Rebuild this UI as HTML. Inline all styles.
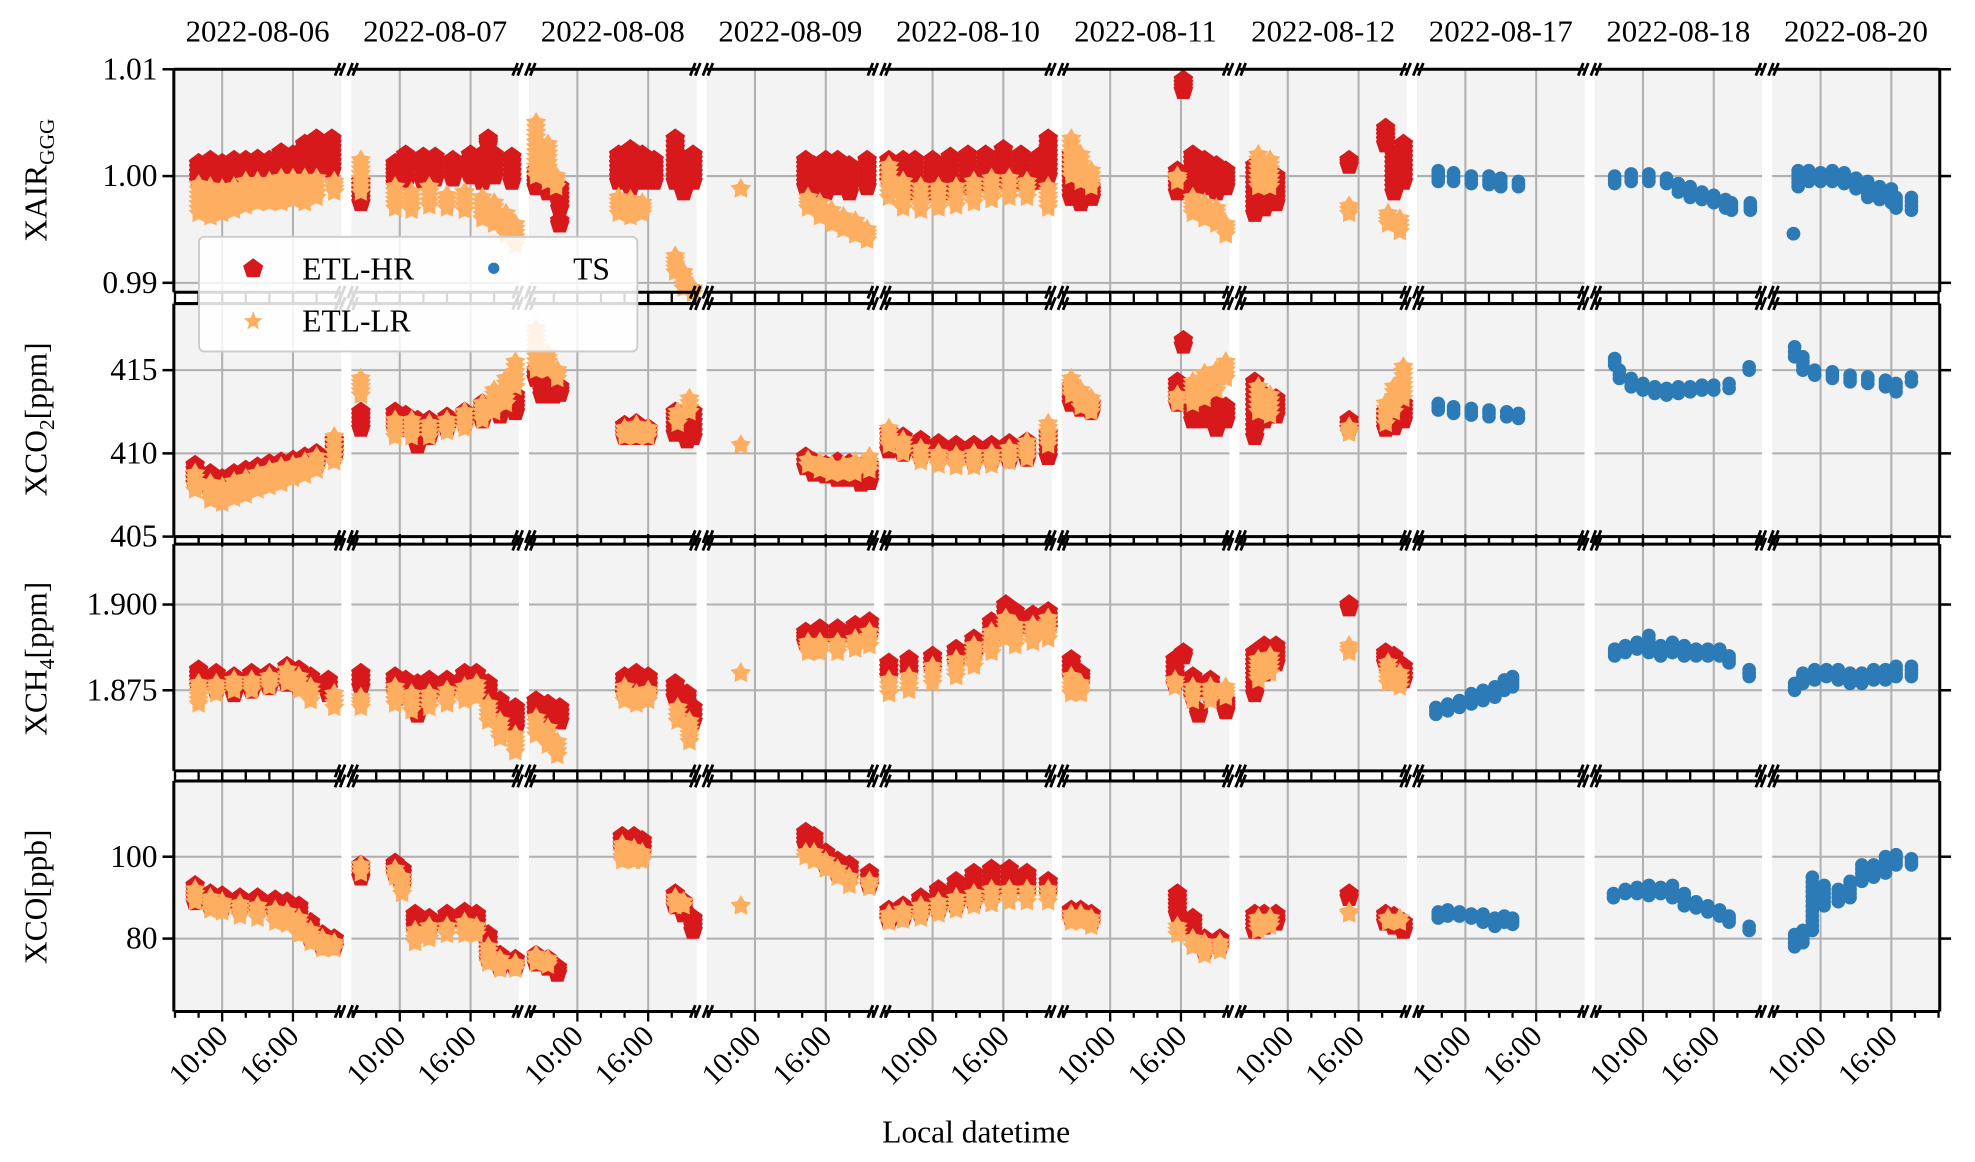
<!DOCTYPE html>
<html><head><meta charset="utf-8"><title>Breaked-axis time series</title>
<style>html,body{margin:0;padding:0;background:#fff}svg{display:block}text{font-family:"Liberation Serif",serif;fill:#000}</style>
</head><body>
<svg id="chart" width="1975" height="1162" viewBox="0 0 1568 922.5" preserveAspectRatio="none" xmlns="http://www.w3.org/2000/svg">
<g id="bg"></g><g id="grid"></g><g id="marks"></g><g id="axes"></g><g id="legend"></g>
</svg>
<script>
const days = ['2022-08-06','2022-08-07','2022-08-08','2022-08-09','2022-08-10','2022-08-11','2022-08-12','2022-08-17','2022-08-18','2022-08-20'];
const xTickHours = [10,16];
const xTickLabels = ['10:00','16:00'];
const xairTicks = [0.99,1.00,1.01];
const xco2Ticks = [405,410,415];
const xch4Ticks = [1.875,1.900];
const xcoTicks = [80,100];

// each entry: [hour, low, high]
const xairHR = [
 [[8,0.9995,1.0012],[9,0.9992,1.0015],[10,0.9998,1.0012],[11,0.9998,1.0015],[12,1.0,1.0015],[13,1.0,1.0016],[14,1.0,1.0015],[15,1.0,1.0022],[16,1.0,1.002],[17,1.0,1.003],[18,1.0005,1.0035],[19.3,1.0005,1.0035]],
 [[6.7,0.9975,0.9995],[9.6,0.9993,1.0012],[10.5,0.9995,1.002],[12,0.9995,1.0018],[13,0.9998,1.0018],[14.5,0.9998,1.0015],[16,1.0,1.002],[17,0.9995,1.002],[17.5,1.003,1.0035],[18,1.0,1.002],[19.5,0.9995,1.0018]],
 [[6.5,0.999,1.0005],[7.5,0.9985,0.9995],[8.5,0.997,0.999],[8.5,0.9955,0.9958],[13.5,0.9995,1.002],[14.5,0.999,1.0025],[15.5,0.9995,1.002],[16.5,0.9995,1.0015],[18.3,0.9995,1.0035],[19,0.9985,1.001],[19.8,0.9995,1.002]],
 [[14.3,0.999,1.0015],[15,0.9985,1.001],[16,0.9985,1.0015],[17,0.999,1.0015],[18,0.9985,1.001],[19.5,0.999,1.0015]],
 [[6.3,0.9995,1.0015],[7.5,0.999,1.0015],[8.5,0.9985,1.0015],[10,0.9985,1.0015],[11.5,0.9985,1.0018],[13,0.999,1.002],[14.5,0.9992,1.002],[16,0.9995,1.0025],[17.5,0.9995,1.002],[19,0.9995,1.0018],[19.8,1.0,1.0035]],
 [[6.7,0.998,1.002],[7.5,0.9975,1.0],[8.4,0.998,0.999],[15.7,0.9985,1.0005],[16.2,1.008,1.009],[17,0.999,1.002],[18,0.999,1.0015],[19,0.9985,1.001],[19.8,0.999,1.0005]],
 [[7.2,0.9965,1.001],[8,0.997,1.0005],[9,0.9975,1.0],[15.2,1.001,1.0015],[18.3,1.003,1.0045],[19,0.9985,1.002],[19.8,0.9995,1.003]],
 [],[],[]
];
const xairLR = [
 [[8,0.9965,0.9992],[9,0.9962,0.999],[10,0.9965,0.9988],[11,0.9968,0.999],[12,0.9972,0.9995],[13,0.9975,0.9995],[14,0.9975,0.9995],[15,0.9975,0.9998],[16,0.9978,0.9998],[17,0.9975,0.9998],[18,0.998,0.9998],[19.5,0.9985,0.9995]],
 [[6.7,0.9985,1.0015],[9.6,0.997,0.999],[11,0.9968,0.9985],[12.5,0.9972,0.999],[14,0.997,0.9982],[15.5,0.9968,0.9985],[17,0.996,0.998],[18,0.9955,0.9975],[19,0.9945,0.9965],[19.8,0.9935,0.9955]],
 [[6.5,1.0,1.005],[7.5,0.9995,1.003],[8.2,0.999,1.0],[13.5,0.9965,0.998],[14.5,0.9962,0.9978],[15.5,0.9965,0.9975],[18.3,0.991,0.9925],[19,0.9895,0.991],[19.8,0.989,0.9895]],
 [[8.8,0.9988,0.9988],[14.5,0.997,0.998],[15.5,0.9962,0.9975],[16.5,0.9955,0.9968],[17.5,0.995,0.9962],[18.5,0.9945,0.9958],[19.5,0.994,0.995]],
 [[6.3,0.998,1.001],[7.5,0.997,0.9995],[9,0.9968,0.999],[10.5,0.997,0.999],[12,0.9972,0.999],[13.5,0.9975,0.9995],[15,0.9978,0.9998],[16.5,0.998,0.9998],[18,0.998,0.9995],[19.8,0.997,0.999]],
 [[6.7,1.0,1.0035],[7.5,0.9995,1.002],[8.4,0.999,1.0005],[15.7,0.9995,1.0],[17,0.9965,0.998],[18,0.996,0.9975],[19,0.9955,0.997],[19.8,0.9945,0.9955]],
 [[7.5,0.999,1.002],[8.5,0.999,1.0015],[15.2,0.9965,0.9972],[18.5,0.9955,0.9965],[19.5,0.9948,0.996]],
 [],[],[]
];
const xairTS = [
 [],[],[],[],[],[],[],
 [[7.7,0.9995,1.0005],[9,0.9995,1.0003],[10.5,0.9993,1.0],[12,0.9992,1.0],[13,0.999,0.9998],[14.5,0.999,0.9995]],
 [[7.6,0.9993,1.0],[9,0.9995,1.0002],[10.5,0.9995,1.0002],[12,0.9993,0.9998],[13,0.9985,0.9993],[14,0.998,0.999],[15,0.9978,0.9985],[16,0.9975,0.9982],[17,0.997,0.9978],[17.5,0.9968,0.9975],[19.1,0.9968,0.9975]],
 [[7.7,0.9946,0.9946],[8.1,0.999,1.0005],[9,0.9995,1.0005],[10,0.9995,1.0003],[11,0.9995,1.0005],[12,0.9993,1.0003],[13,0.9988,0.9998],[14,0.998,0.9995],[15,0.9978,0.999],[16,0.9975,0.9988],[16.4,0.997,0.998],[17.7,0.9968,0.998]]
];
const xco2HR = [
 [[7.7,408.2,409.3],[9,407.8,408.8],[10,407.5,408.5],[11,407.8,408.8],[12,408,409],[13,408.3,409.2],[14,408.5,409.4],[15,408.5,409.5],[16,408.8,409.6],[17,409,409.8],[18,409.3,410],[19.5,409.8,410.8]],
 [[6.7,411.5,412.5],[9.6,411.5,412.5],[10.5,411.5,412.3],[11.5,410.5,412],[12.5,411,412],[14,411.5,412.2],[15.5,411.8,412.5],[17,412,413],[18.5,412.3,413.3],[19.8,412.5,413.5]],
 [[6.5,414.5,415],[7,413.5,414.5],[8,413.5,414.2],[8.5,413.6,414],[14,411,411.7],[15,411,411.8],[16,411,411.5],[18.3,411.2,412.5],[19.3,410.8,412],[19.8,411,412.5]],
 [[14.3,409.2,409.8],[15,408.8,409.5],[16,408.7,409.3],[17,408.5,409.5],[18,408.5,409.4],[19,408.2,409.2],[19.7,408.3,409.3]],
 [[6.3,410.2,411.3],[7.5,410,411],[9,409.8,410.8],[10.5,409.7,410.6],[12,409.6,410.5],[13.5,409.5,410.5],[15,409.6,410.5],[16.5,409.6,410.6],[18,409.7,410.7],[19.8,409.8,411.2]],
 [[6.7,413,414],[7.5,412.7,413.5],[8.4,412.5,413],[15.7,413,414.3],[16.2,416.5,416.8],[17,412,413.5],[18,412,413],[19,411.5,413],[19.8,412,412.8]],
 [[7.2,411,414.3],[8,412,413.5],[9,412.3,413.3],[15.2,411.5,412],[18.3,411.5,412.5],[19,411.6,412.8],[19.8,412,413]],
 [],[],[]
];
const xco2LR = [
 [[7.7,407.8,408.8],[9,407.2,408.2],[10,407,408],[11,407.3,408.3],[12,407.5,408.5],[13,407.8,408.8],[14,408,409],[15,408.2,409.2],[16,408.5,409.3],[17,408.7,409.5],[18,409,409.8],[19.5,409.5,411]],
 [[6.7,413.5,414.5],[9.6,411,412],[11,411,412],[12.5,411,411.8],[14,411.3,412],[15.5,411.5,412.5],[17,412,413],[18,412.5,413.8],[19,413,414.5],[19.8,414,415.5]],
 [[6.5,415,417.5],[7.5,415,416],[8.3,414.5,415],[14,411,411.5],[15,411,411.7],[16,411,411.5],[18.5,411.8,412.5],[19.5,412.5,413.3]],
 [[8.8,410.5,410.5],[14.5,409.3,409.6],[15.5,409,409.5],[16.5,408.8,409.3],[17.5,408.8,409.3],[18.5,408.8,409.5],[19.7,409,409.8]],
 [[6.3,410.5,411.5],[7.5,410,410.8],[9,409.5,410.3],[10.5,409.3,410],[12,409.2,409.9],[13.5,409.2,410],[15,409.3,410],[16.5,409.5,410.3],[18,409.7,410.7],[19.8,410.5,411.8]],
 [[6.7,413.5,414.5],[7.5,412.8,413.8],[8.4,412.5,413.3],[15.7,413,413.5],[17,413,414.3],[18,413.3,414.8],[19,413.8,415],[19.8,414.5,415.5]],
 [[7.5,412.5,414],[8.5,412.3,413.5],[15.2,411.2,411.6],[18.3,411.8,413],[19,412.5,414],[19.8,413.3,415.2]],
 [],[],[]
];
const xco2TS = [
 [],[],[],[],[],[],[],
 [[7.7,412.6,413],[9,412.4,412.8],[10.5,412.3,412.7],[12,412.2,412.6],[13.5,412.2,412.5],[14.5,412.1,412.4]],
 [[7.6,415.3,415.7],[8,414.5,415],[9,414,414.5],[10,413.8,414.2],[11,413.6,414],[12,413.5,413.9],[13,413.6,414],[14,413.7,414],[15,413.8,414.1],[16,413.8,414.1],[17.3,413.9,414.2],[19,415,415.2]],
 [[7.8,415.8,416.4],[8.5,415,415.8],[9.5,414.7,415],[11,414.5,414.9],[12.5,414.3,414.7],[14,414.2,414.6],[15.5,414,414.4],[16.4,413.7,414.2],[17.7,414.3,414.6]]
];
const xch4HR = [
 [[8,1.876,1.881],[9.5,1.875,1.88],[11,1.874,1.879],[12.5,1.875,1.88],[14,1.876,1.88],[15.5,1.877,1.882],[16.5,1.876,1.881],[17.5,1.875,1.879],[19,1.874,1.878]],
 [[6.7,1.876,1.88],[9.6,1.875,1.879],[10.5,1.873,1.878],[11.5,1.868,1.877],[12.5,1.873,1.878],[14,1.874,1.878],[15.5,1.876,1.88],[16.5,1.876,1.88],[17.5,1.872,1.877],[18.5,1.867,1.872],[19.8,1.864,1.87]],
 [[6.5,1.868,1.872],[7.5,1.867,1.871],[8.5,1.866,1.87],[14,1.874,1.879],[15,1.875,1.88],[16,1.874,1.879],[18.3,1.873,1.877],[19.3,1.868,1.874],[19.8,1.866,1.87]],
 [[14.3,1.889,1.892],[15.5,1.889,1.893],[17,1.889,1.893],[18.5,1.89,1.894],[19.7,1.891,1.895]],
 [[6.3,1.879,1.883],[8,1.88,1.884],[10,1.881,1.885],[12,1.883,1.887],[13.5,1.885,1.89],[15,1.89,1.895],[16.2,1.896,1.9],[17,1.892,1.898],[18.5,1.892,1.897],[19.8,1.893,1.898]],
 [[6.7,1.879,1.884],[7.5,1.877,1.88],[15.5,1.877,1.884],[16.2,1.885,1.886],[17,1.873,1.879],[17.5,1.868,1.869],[18.5,1.873,1.878],[19.8,1.869,1.872]],
 [[7.2,1.874,1.886],[8,1.88,1.888],[9,1.883,1.888],[15.2,1.899,1.9],[18.3,1.883,1.886],[19,1.88,1.885],[19.8,1.878,1.882]],
 [],[],[]
];
const xch4LR = [
 [[8,1.871,1.877],[9.5,1.874,1.877],[11,1.875,1.878],[12.5,1.875,1.878],[14,1.876,1.879],[15.5,1.877,1.881],[16.5,1.875,1.879],[17.5,1.872,1.876],[19.5,1.87,1.874]],
 [[6.7,1.87,1.873],[9.6,1.871,1.876],[11,1.869,1.874],[12.5,1.87,1.874],[14,1.871,1.875],[15.5,1.872,1.876],[16.5,1.873,1.877],[17.5,1.866,1.871],[18.5,1.861,1.866],[19.8,1.857,1.862]],
 [[6.5,1.862,1.867],[7.5,1.859,1.864],[8.3,1.856,1.86],[14,1.872,1.876],[15,1.871,1.874],[16,1.872,1.875],[18.5,1.866,1.87],[19.5,1.86,1.866]],
 [[8.8,1.88,1.88],[14.5,1.886,1.889],[15.5,1.886,1.889],[17,1.886,1.889],[18.5,1.887,1.89],[19.7,1.888,1.892]],
 [[6.3,1.874,1.878],[8,1.875,1.879],[10,1.877,1.882],[12,1.879,1.884],[13.5,1.882,1.888],[15,1.886,1.892],[16.2,1.89,1.896],[17,1.888,1.894],[18.5,1.889,1.894],[19.8,1.89,1.896]],
 [[6.7,1.874,1.879],[7.5,1.874,1.877],[15.5,1.876,1.878],[17,1.872,1.876],[18.5,1.872,1.876],[19.8,1.873,1.876]],
 [[7.5,1.878,1.884],[8.5,1.88,1.885],[15.2,1.886,1.888],[18.5,1.877,1.883],[19.5,1.876,1.88]],
 [],[],[]
];
const xch4TS = [
 [],[],[],[],[],[],[],
 [[7.5,1.868,1.87],[8.5,1.869,1.871],[9.5,1.87,1.872],[10.5,1.871,1.874],[11.5,1.872,1.875],[12.5,1.873,1.876],[13.3,1.875,1.878],[14,1.876,1.879]],
 [[7.6,1.885,1.887],[8.5,1.886,1.888],[9.5,1.887,1.889],[10.5,1.886,1.891],[11.5,1.885,1.888],[12.5,1.886,1.889],[13.5,1.885,1.888],[14.5,1.885,1.887],[15.5,1.885,1.887],[16.5,1.885,1.887],[17.3,1.883,1.885],[19,1.879,1.881]],
 [[7.8,1.875,1.877],[8.5,1.877,1.88],[9.5,1.878,1.881],[10.5,1.879,1.881],[11.5,1.878,1.881],[12.5,1.877,1.88],[13.5,1.877,1.88],[14.5,1.878,1.881],[15.5,1.878,1.881],[16.4,1.879,1.882],[17.7,1.879,1.882]]
];
const xcoHR = [
 [[7.7,89,93],[9,88,91],[10,87.5,90.5],[11.5,87,90],[13,87,90],[14.5,86,89.5],[15.5,86,89],[16.5,83,88],[17.5,80,84],[18.5,78,81],[19.5,78,80]],
 [[6.7,95,98],[9.6,96,98.5],[10.2,93,97],[11.3,82,86],[12.5,82,85],[14,83,86],[15.5,83,86.5],[16.5,83,86],[17.5,75,81],[18.5,73,76],[19.8,73,75]],
 [[6.5,74,76],[7.5,73,75],[8.3,71.5,73],[13.8,102,105],[14.8,101,105],[15.5,101,104],[18.3,88,91],[19,86,89],[19.8,82,85]],
 [[14.3,103,106],[15,102,105],[16,98,101],[17,96,99],[18,95,98],[19.7,93,96]],
 [[6.3,84.5,87],[7.5,85,88],[9,86,90],[10.5,87,92],[12,88,94],[13.5,89,96],[15,90,97],[16.5,91,97],[18,91,96],[19.8,91,94]],
 [[6.7,85,87],[7.5,85,87],[8.4,84,86],[15.7,86,91],[17,82,85],[18,77,80],[19.3,78,80]],
 [[7.2,82,86],[8,83,86],[9,84,86],[15.2,90,91],[18.3,84,86],[19,83,85.5],[19.8,82,84]],
 [],[],[]
];
const xcoLR = [
 [[7.7,89,92],[9,87,90],[10,86.5,89],[11.5,85.5,88.5],[13,85,88],[14.5,84,87],[15.5,83.5,86.5],[16.5,81,85],[17.5,79,82],[18.5,77.5,80],[19.5,77.5,79]],
 [[6.7,96,98],[9.6,95,97],[10.2,91,95],[11.3,79,82],[12.5,80,83],[14,81,83],[15.5,81,84],[16.5,81,83],[17.5,74,78],[18.5,72.5,75],[19.8,72.5,74]],
 [[6.5,74,76],[7.5,73.5,75],[13.8,99,103],[14.8,99,102],[15.5,99,101],[18.3,88,90],[19,88,89]],
 [[8.8,88,88],[14.3,100,101],[15,99,101],[16,97,99],[17,95,97],[18,93,95],[19.7,92.5,94]],
 [[6.3,84,86],[7.5,84.5,87],[9,85,88],[10.5,86,89],[12,87,90],[13.5,88,91],[15,88.5,92],[16.5,89,92],[18,89,92],[19.8,89,92]],
 [[6.7,84,86],[7.5,84,86],[8.4,83,85],[15.7,81,83],[17,78,80],[18,76,79],[19.3,77,79]],
 [[7.5,82,85],[8.5,83,85],[15.2,86,86.5],[18.5,84,85],[19.5,84,85]],
 [],[],[]
];
const xcoTS = [
 [],[],[],[],[],[],[],
 [[7.7,85,86.5],[8.5,85.5,87],[9.5,85.5,86.5],[10.5,85,86],[11.5,84,86],[12.5,83,85],[13.3,84,85.5],[14,83.5,85]],
 [[7.5,90,91],[8.5,91,92],[9.5,91,92.5],[10.5,90.5,93],[11.5,91,92.5],[12.5,90,93],[13.5,88,91],[14.5,87.5,89],[15.5,86.5,88],[16.5,85.5,87],[17.3,84,85.5],[19,82,83]],
 [[7.8,78,81],[8.5,79,82],[9.3,82,95],[10.3,88,93],[11.5,89,92],[12.5,90,94],[13.5,94,98],[14.5,95,98],[15.5,96,100],[16.4,98,100.5],[17.7,98,99.5]]
];

const NS='http://www.w3.org/2000/svg';
const C_HR='#d7191c', C_LR='#fdae61', C_TS='#2c7bb6';
const colW=133, H0=5.9, H1=20.1;
function colLeft(c){return 138+c*141;}
function xPos(c,h){return colLeft(c)+(h-H0)/(H1-H0)*colW;}
const rows=[
 {name:'xair',top:55,bot:232,vmax:1.01,vmin:0.98912,ticks:xairTicks,dec:2,hr:xairHR,lr:xairLR,ts:xairTS},
 {name:'xco2',top:241,bot:426,vmax:419.0,vmin:405.0,ticks:xco2Ticks,dec:0,hr:xco2HR,lr:xco2LR,ts:xco2TS},
 {name:'xch4',top:432,bot:612,vmax:1.9176,vmin:1.8515,ticks:xch4Ticks,dec:3,hr:xch4HR,lr:xch4LR,ts:xch4TS},
 {name:'xco',top:620,bot:803,vmax:118.5,vmin:62.2,ticks:xcoTicks,dec:0,hr:xcoHR,lr:xcoLR,ts:xcoTS}
];
function yPos(r,v){return r.top+(r.vmax-v)/(r.vmax-r.vmin)*(r.bot-r.top);}
function mk(tag,attrs,parent){const e=document.createElementNS(NS,tag);for(const k in attrs)e.setAttribute(k,attrs[k]);parent.appendChild(e);return e;}
const gBg=document.getElementById('bg'),gGrid=document.getElementById('grid'),gMarks=document.getElementById('marks'),gAxes=document.getElementById('axes');

function pentagon(x,y,r){let p=[];for(let k=0;k<5;k++){const a=(-90+72*k)*Math.PI/180;p.push((x+r*Math.cos(a)).toFixed(1)+','+(y+r*Math.sin(a)).toFixed(1));}return p.join(' ');}
function star(x,y,r){let p=[];for(let k=0;k<10;k++){const a=(-90+36*k)*Math.PI/180;const rr=k%2?r*0.55:r;p.push((x+rr*Math.cos(a)).toFixed(1)+','+(y+rr*Math.sin(a)).toFixed(1));}return p.join(' ');}

rows.forEach((r,ri)=>{
 days.forEach((d,c)=>{
  const bg=mk('rect',{x:colLeft(c),y:r.top,width:colW,height:r.bot-r.top,fill:'#f3f3f3'},gBg);
  
  
  xTickHours.forEach(h=>{const x=xPos(c,h);
   const l=mk('line',{x1:x,x2:x,y1:r.top,y2:r.bot,stroke:'#b0b0b0','stroke-width':1.6},gGrid);
   
   
  });
  r.ticks.forEach(v=>{const y=yPos(r,v);
   const l=mk('line',{x1:colLeft(c),x2:colLeft(c)+colW,y1:y,y2:y,stroke:'#b0b0b0','stroke-width':1.6},gGrid);
   
   
  });
 });
});

function drawSeries(r,data,kind,color){
 data.forEach((entries,c)=>{
  entries.forEach(e=>{
   const x=xPos(c,e[0]);const y1=yPos(r,e[2]),y2=yPos(r,e[1]);
   const n=Math.max(1,Math.ceil((y2-y1)/4));
   for(let i=0;i<=n;i++){
    const y=y1+(y2-y1)*i/n;
    let el;
    if(kind==='hr'){el=mk('polygon',{points:pentagon(x,y,8.2),fill:color},gMarks);}
    else if(kind==='lr'){el=mk('polygon',{points:star(x,y,8.5),fill:color},gMarks);}
    else {el=mk('circle',{cx:x,cy:y,r:5.4,fill:color},gMarks);}
    
    
   }
  });
 });
}
rows.forEach(r=>{drawSeries(r,r.hr,'hr',C_HR);drawSeries(r,r.lr,'lr',C_LR);drawSeries(r,r.ts,'ts',C_TS);});

rows.forEach((r,ri)=>{
 days.forEach((d,c)=>{
  const L=colLeft(c),R=L+colW;
  [r.top,r.bot].forEach((y,side)=>{
   const s=mk('line',{x1:L,x2:R,y1:y,y2:y,stroke:'#000','stroke-width':2.4},gAxes);
   
   
   const dir = side===0 ? -1 : 1;
   const isOuterTop = (ri===0 && side===0);
   if(!isOuterTop){
    for(let h=6;h<=20;h+=2){const x=xPos(c,h);const len=(h===10||h===16)?8:5;
     const t=mk('line',{x1:x,x2:x,y1:y,y2:y+dir*len,stroke:'#000','stroke-width':1.8},gAxes);
     
     
    }
   }
   if(c>0){const b=mk('path',{d:`M${L-3},${y+5} L${L+1},${y-5} M${L+1},${y+5} L${L+5},${y-5}`,stroke:'#000','stroke-width':2.2,fill:'none'},gAxes);
    
    }
   if(c<days.length-1){const b=mk('path',{d:`M${R-5},${y+5} L${R-1},${y-5} M${R-1},${y+5} L${R+3},${y-5}`,stroke:'#000','stroke-width':2.2,fill:'none'},gAxes);
    
    }
  });
 });
 const L0=colLeft(0),RN=colLeft(9)+colW;
 const ls=mk('line',{x1:L0,x2:L0,y1:r.top,y2:r.bot,stroke:'#000','stroke-width':2.4},gAxes);
 
 
 const rs=mk('line',{x1:RN,x2:RN,y1:r.top,y2:r.bot,stroke:'#000','stroke-width':2.4},gAxes);
 
 
 r.ticks.forEach(v=>{const y=yPos(r,v);
  const t1=mk('line',{x1:L0-9,x2:L0,y1:y,y2:y,stroke:'#000','stroke-width':2},gAxes);
  
  
  const t2=mk('line',{x1:RN,x2:RN+9,y1:y,y2:y,stroke:'#000','stroke-width':2},gAxes);
  
  
  const tx=mk('text',{x:L0-13,y:y+8,'text-anchor':'end','font-size':25},gAxes);
  tx.textContent=v.toFixed(r.dec);
  
  
 });
});

days.forEach((d,c)=>{
 const t=mk('text',{x:colLeft(c)+colW/2,y:33,'text-anchor':'middle','font-size':24.5},gAxes);
 t.textContent=d;
 
 
 xTickHours.forEach((h,i)=>{const x=xPos(c,h)+6,y=824;
  const l=mk('text',{x:x,y:y,'text-anchor':'end','font-size':24,transform:`rotate(-45 ${x} ${y})`},gAxes);
  l.textContent=xTickLabels[i];
  
  
 });
});
</script>
<svg style="position:absolute;left:0;top:0" width="1975" height="1162" viewBox="0 0 1568 922.5" preserveAspectRatio="none" xmlns="http://www.w3.org/2000/svg">
 <text x="775" y="907" text-anchor="middle" font-size="25">Local datetime</text>
 <text transform="translate(37,143) rotate(-90)" text-anchor="middle" font-size="25">XAIR<tspan font-size="17" dy="6">GGG</tspan></text>
 <text transform="translate(37,333) rotate(-90)" text-anchor="middle" font-size="25">XCO<tspan font-size="17" dy="6">2</tspan><tspan dy="-6">[ppm]</tspan></text>
 <text transform="translate(37,523) rotate(-90)" text-anchor="middle" font-size="25">XCH<tspan font-size="17" dy="6">4</tspan><tspan dy="-6">[ppm]</tspan></text>
 <text transform="translate(37,712) rotate(-90)" text-anchor="middle" font-size="25">XCO[ppb]</text>
 <g>
  <rect x="158" y="188" width="348" height="91" rx="4" fill="#ffffff" fill-opacity="0.85" stroke="#cccccc" stroke-width="1.5"/>
  <polygon points="201,205 209,211 206,220 196,220 193,211" fill="#d7191c"/>
  <text x="240" y="222" font-size="25">ETL-HR</text>
  <circle cx="392" cy="213" r="4.5" fill="#2c7bb6"/>
  <text x="455" y="222" font-size="25">TS</text>
  <polygon points="201,247 203,252.5 208.5,252.8 204.2,256.3 205.6,261.5 201,258.6 196.4,261.5 197.8,256.3 193.5,252.8 199,252.5" fill="#fdae61"/>
  <text x="240" y="263" font-size="25">ETL-LR</text>
 </g>
</svg>
</body></html>
